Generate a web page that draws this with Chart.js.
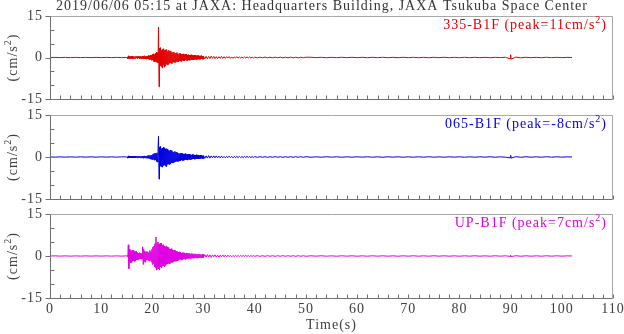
<!DOCTYPE html>
<html><head><meta charset="utf-8">
<script src="https://cdn.jsdelivr.net/npm/chart.js@4.4.1/dist/chart.umd.min.js"></script>
<style>
html,body{margin:0;padding:0;background:#fff;width:624px;height:334px;overflow:hidden}
canvas.p{position:absolute;left:0;top:0}
</style>
</head><body>
<canvas id="c0" class="p" width="624" height="334"></canvas>
<canvas id="c1" class="p" width="624" height="334"></canvas>
<canvas id="c2" class="p" width="624" height="334"></canvas>
<script>
// ---- data (time in seconds, acceleration in cm/s^2) ----
const times = [
0,1,2,3,4,5,6,7,8,9,10,11,12,13,14,
15,15.1,15.2,15.3,15.4,15.5,15.6,15.7,15.8,15.9,
16,16.1,16.2,16.3,16.4,16.5,16.6,16.7,16.8,16.9,
17,17.1,17.2,17.3,17.4,17.5,17.6,17.7,17.8,17.9,
18,18.1,18.2,18.3,18.4,18.5,18.6,18.7,18.8,18.9,
19,19.1,19.2,19.3,19.4,19.5,19.6,19.7,19.8,19.9,
20,20.1,20.2,20.3,20.4,20.5,20.6,20.7,20.8,20.9,
21,21.1,21.2,21.3,21.4,21.5,21.6,21.7,21.8,21.9,
22,22.1,22.2,22.3,22.4,22.5,22.6,22.7,22.8,22.9,
23,23.1,23.2,23.3,23.4,23.5,23.6,23.7,23.8,23.9,
24,24.1,24.2,24.3,24.4,24.5,24.6,24.7,24.8,24.9,
25,25.1,25.2,25.3,25.4,25.5,25.6,25.7,25.8,25.9,
26,26.1,26.2,26.3,26.4,26.5,26.6,26.7,26.8,26.9,
27,27.1,27.2,27.3,27.4,27.5,27.6,27.7,27.8,27.9,
28,28.1,28.2,28.3,28.4,28.5,28.6,28.7,28.8,28.9,
29,29.1,29.2,29.3,29.4,29.5,29.6,29.7,29.8,29.9,
30,
30.25,30.5,30.75,31,31.25,31.5,31.75,32,32.25,32.5,
32.75,33,33.25,33.5,33.75,34,34.25,34.5,34.75,35,
35.25,35.5,35.75,36,36.25,36.5,36.75,37,37.25,37.5,
37.75,38,38.25,38.5,38.75,39,39.25,39.5,39.75,40,
40.5,41,41.5,42,42.5,43,43.5,44,44.5,45,
45.5,46,46.5,47,47.5,48,48.5,49,49.5,50,
51,52,53,54,55,56,57,58,59,60,
61,62,63,64,65,66,67,68,69,70,
71,72,73,74,75,76,77,78,79,80,
81,82,83,84,85,86,87,88,89,
89.9,90,90.1,
91,92,93,94,95,96,97,98,99,100,101,102
];
const acc335 = [
0,0.04,-0.04,0.05,-0.04,0.04,-0.05,0.04,-0.04,0.05,-0.04,0.04,-0.05,0.04,-0.04,
0.02,0.05,-0.5,0.6,-0.3,0.4,-0.5,0.3,-0.4,0.5,
-0.3,0.4,-0.5,0.2,0.4,-0.4,0.3,-0.3,0.5,-0.2,
0.3,-0.4,0.4,-0.2,0.3,-0.5,0.4,-0.3,0.2,-0.4,
0.5,-0.3,0.4,-0.5,0.6,-0.4,0.3,-0.5,0.4,-0.6,
0.5,-0.4,0.7,-0.6,0.5,-0.8,0.9,-0.6,0.8,-1.0,
1.1,-0.8,1.3,-1.4,1.0,-1.6,1.5,-1.2,1.9,-1.7,
1.6,-2.0,11.0,-10.6,3.4,-2.9,3.6,-3.2,2.6,-3.8,
3.0,-2.7,3.2,-3.5,2.6,-3.0,2.8,-2.4,2.9,-2.6,
2.2,-2.5,2.6,-2.0,2.3,-1.9,2.4,-2.2,1.8,-2.0,
1.9,-1.6,2.0,-1.7,1.5,-1.8,1.6,-1.4,1.8,-1.5,
1.3,-1.5,1.4,-1.2,1.5,-1.3,1.1,-1.4,1.2,-1.0,
1.3,-1.1,1.0,-1.2,1.1,-0.9,1.2,-1.0,0.9,-1.1,
1.0,-0.8,0.9,-1.0,0.8,-0.9,1.0,-0.7,0.8,-0.9,
0.7,-0.8,0.9,-0.6,0.8,-0.7,0.6,-0.8,0.7,-0.6,
0.7,-0.6,0.5,-0.7,0.6,-0.5,0.7,-0.6,0.5,-0.6,
0.5,
-0.5,0.4,-0.5,0.4,-0.4,0.5,-0.3,0.4,-0.4,0.3,
-0.4,0.3,-0.3,0.4,-0.3,0.3,-0.3,0.3,-0.2,0.3,
-0.3,0.2,-0.3,0.2,-0.2,0.3,-0.2,0.2,-0.2,0.2,
-0.25,0.2,-0.2,0.2,-0.15,0.2,-0.2,0.15,-0.2,0.15,
-0.15,0.12,-0.12,0.15,-0.12,0.1,-0.12,0.12,-0.1,0.12,
-0.12,0.1,-0.1,0.12,-0.1,0.1,-0.12,0.1,-0.1,0.1,
0.08,-0.06,0.07,-0.08,0.06,-0.07,0.08,-0.06,0.07,-0.07,
0.06,-0.08,0.07,-0.06,0.08,-0.07,0.06,-0.07,0.08,-0.06,
0.07,-0.07,0.06,-0.08,0.07,-0.06,0.08,-0.07,0.06,-0.07,
0.08,-0.06,0.07,-0.07,0.06,-0.08,0.07,-0.06,0.08,
-0.5,1.0,-0.6,
0.15,-0.1,0.08,-0.07,0.06,-0.07,0.08,-0.06,0.07,-0.06,0.05,0
];
const acc065 = [
0,-0.04,0.04,-0.05,0.04,-0.04,0.05,-0.04,0.04,-0.05,0.04,-0.04,0.05,-0.04,0.04,
0.02,0.03,-0.4,0.4,-0.3,0.3,-0.2,0.3,-0.3,0.2,
-0.3,0.2,-0.2,0.3,-0.3,0.2,-0.2,0.3,-0.2,0.2,
-0.3,0.2,-0.2,0.3,-0.2,0.2,-0.3,0.2,-0.2,0.3,
-0.3,0.3,-0.4,0.3,-0.3,0.4,-0.3,0.3,-0.4,0.3,
-0.4,0.5,-0.4,0.6,-0.5,0.5,-0.7,0.6,-0.8,0.7,
-0.9,1.0,-0.8,1.2,-1.1,1.4,-1.0,1.3,-1.6,1.5,
-1.8,2.0,7.4,-7.9,3.6,-3.2,3.8,-3.4,3.0,-3.6,
3.2,-3.0,3.5,-2.8,3.3,-3.1,2.9,-3.4,3.0,-2.6,
2.8,-2.5,2.4,-2.7,2.2,-2.4,2.5,-2.0,2.3,-2.1,
1.9,-2.0,1.7,-1.8,2.0,-1.6,1.7,-1.5,1.8,-1.6,
1.4,-1.5,1.3,-1.4,1.2,-1.3,1.4,-1.1,1.2,-1.2,
1.1,-1.2,1.0,-1.1,1.2,-0.9,1.0,-1.0,0.9,-1.1,
0.9,-0.8,1.0,-0.9,0.8,-0.9,0.7,-0.8,0.9,-0.7,
0.8,-0.7,0.6,-0.8,0.7,-0.6,0.8,-0.6,0.7,-0.6,
0.6,-0.7,0.5,-0.6,0.6,-0.5,0.6,-0.5,0.5,-0.6,
0.5,
-0.5,0.4,-0.4,0.5,-0.4,0.4,-0.3,0.4,-0.3,0.4,
-0.3,0.3,-0.3,0.3,-0.3,0.2,-0.3,0.2,-0.2,0.3,
-0.2,0.2,-0.3,0.2,-0.2,0.2,-0.2,0.2,-0.2,0.15,
-0.2,0.2,-0.15,0.2,-0.15,0.15,-0.2,0.15,-0.15,0.15,
-0.12,0.12,-0.1,0.12,-0.12,0.1,-0.1,0.12,-0.1,0.1,
-0.12,0.1,-0.1,0.1,-0.1,0.12,-0.1,0.1,-0.1,0.1,
-0.08,0.06,-0.07,0.08,-0.06,0.07,-0.08,0.06,-0.07,0.07,
-0.06,0.08,-0.07,0.06,-0.08,0.07,-0.06,0.07,-0.08,0.06,
-0.07,0.07,-0.06,0.08,-0.07,0.06,-0.08,0.07,-0.06,0.07,
-0.08,0.06,-0.07,0.07,-0.06,0.08,-0.07,0.06,-0.08,
-0.3,0.6,-0.4,
0.12,-0.1,0.08,-0.07,0.06,-0.07,0.08,-0.06,0.07,-0.06,0.05,0
];
const accUP = [
0,0.05,-0.04,0.04,-0.05,0.04,-0.04,0.05,-0.04,0.04,-0.04,0.05,-0.04,0.04,-0.05,
0.05,0.1,-0.2,4.0,-4.5,2.4,-2.2,2.0,-2.5,1.8,
-2.0,2.1,-1.7,1.9,-1.8,1.5,-1.9,1.6,-1.4,1.7,
-1.3,1.2,-1.4,1.0,-1.1,1.2,-0.9,1.0,-1.1,0.9,
-1.0,3.3,-3.0,2.4,-2.0,1.8,-2.2,1.5,-1.4,1.6,
-1.3,1.5,-1.6,1.2,-1.8,2.0,-1.5,1.6,-2.1,2.4,
-3.0,3.2,-2.6,3.5,-3.8,4.4,-4.2,6.8,-5.0,4.6,
-4.4,5.0,-4.6,4.2,-4.8,4.5,-3.9,4.6,-4.1,3.8,
-3.6,4.0,-3.4,3.5,-3.8,3.1,-3.3,3.6,-2.9,3.2,
-2.8,3.0,-2.6,2.5,-2.8,2.4,-2.2,2.6,-2.3,2.1,
-2.2,1.9,-2.0,2.1,-1.7,1.8,-1.9,1.6,-1.7,1.5,
-1.6,1.4,-1.3,1.5,-1.2,1.4,-1.3,1.1,-1.3,1.2,
-1.1,1.2,-1.0,1.1,-1.2,0.9,-1.0,1.1,-0.9,1.0,
-0.9,1.0,-0.8,0.9,-0.9,0.7,-0.8,0.9,-0.7,0.8,
-0.8,0.7,-0.7,0.8,-0.6,0.7,-0.7,0.6,-0.7,0.6,
-0.6,0.7,-0.5,0.6,-0.6,0.5,-0.6,0.5,-0.5,0.6,
-0.5,
0.5,-0.4,0.5,-0.4,0.4,-0.5,0.4,-0.3,0.4,-0.4,
0.3,-0.4,0.3,-0.3,0.4,-0.3,0.3,-0.3,0.3,-0.25,
0.25,-0.3,0.2,-0.25,0.25,-0.2,0.2,-0.25,0.2,-0.2,
0.2,-0.15,0.2,-0.15,0.15,-0.2,0.15,-0.15,0.15,-0.12,
0.12,-0.12,0.1,-0.12,0.12,-0.1,0.1,-0.12,0.1,-0.1,
0.12,-0.1,0.1,-0.1,0.1,-0.12,0.1,-0.1,0.1,-0.1,
0.07,-0.06,0.08,-0.07,0.06,-0.08,0.07,-0.06,0.07,-0.08,
0.06,-0.07,0.08,-0.06,0.07,-0.07,0.06,-0.08,0.07,-0.06,
0.08,-0.07,0.06,-0.07,0.08,-0.06,0.07,-0.07,0.06,-0.08,
0.07,-0.06,0.08,-0.07,0.06,-0.07,0.08,-0.06,0.07,
-0.15,0.3,-0.2,
0.1,-0.08,0.07,-0.07,0.06,-0.07,0.08,-0.06,0.07,-0.06,0.05,0
];
const xTickLabels = [0,10,20,30,40,50,60,70,80,90,100,110];
const yTickLabels = [-15,0,15];
const panelNames = ['335-B1F','065-B1F','UP-B1F'];
const panelPeaks = [11,-8,7];
const titleText = '2019/06/06 05:15 at JAXA: Headquarters Building, JAXA Tsukuba Space Center';
const xTitle = 'Time(s)';

// ---- layout / style ----
const W = 624, H = 334;
const TOPS = [16,115,214], BOTS = [99,199,298];
const LEFT = 50, RIGHT = 613;
const COLORS = ['#e00000','#0000e0','#e000e0'];
const FONT = '"Liberation Serif","Times New Roman",serif';
const TXT = '#404040';

function supText(ctx, x, y, parts, size, align){
  ctx.font = size + 'px ' + FONT;
  const w1 = ctx.measureText(parts[0]).width;
  const w3 = ctx.measureText(parts[2]).width;
  ctx.font = Math.round(size*0.7) + 'px ' + FONT;
  const w2 = ctx.measureText(parts[1]).width;
  const tot = w1 + w2 + w3;
  let sx = align === 'right' ? x - tot : (align === 'center' ? x - tot/2 : x);
  ctx.textAlign = 'left'; ctx.textBaseline = 'alphabetic';
  ctx.font = size + 'px ' + FONT;
  ctx.fillText(parts[0], sx, y);
  ctx.font = Math.round(size*0.7) + 'px ' + FONT;
  ctx.fillText(parts[1], sx + w1, y - size*0.42);
  ctx.font = size + 'px ' + FONT;
  ctx.fillText(parts[2], sx + w1 + w2, y);
}

const spacingPlugin = {
  id:'spacing',
  beforeDraw(chart){ try { chart.ctx.letterSpacing = '1px'; } catch(e){} }
};

function framePlugin(idx){
  return {
    id:'frame'+idx,
    afterDraw(chart){
      const ctx = chart.ctx, a = chart.chartArea, xs = chart.scales.x, ys = chart.scales.y;
      const l = Math.round(a.left)+0.5, r = Math.round(a.right)-0.5;
      const t = Math.round(a.top)+0.5, b = Math.round(a.bottom)+0.5;
      ctx.save();
      ctx.lineWidth = 1;
      ctx.strokeStyle = '#a8a8a8';
      ctx.beginPath(); ctx.moveTo(l, t); ctx.lineTo(r, t); ctx.lineTo(r, b); ctx.stroke();
      ctx.strokeStyle = '#707070';
      ctx.beginPath(); ctx.moveTo(l, t); ctx.lineTo(l, b); ctx.lineTo(r, b); ctx.stroke();
      ctx.beginPath();
      yTickLabels.forEach(v => { const p = Math.round(ys.getPixelForValue(v))+0.5; ctx.moveTo(l-5, p); ctx.lineTo(l, p); });
      [-10,-5,5,10].forEach(v => { const p = Math.round(ys.getPixelForValue(v))+0.5; ctx.moveTo(l, p); ctx.lineTo(l+4, p); });
      for (let v = 0; v <= 110; v += 2) {
        const p = Math.round(xs.getPixelForValue(v))+0.5;
        ctx.moveTo(p, b); ctx.lineTo(p, b-4);
      }
      ctx.stroke();
      ctx.fillStyle = COLORS[idx];
      try { ctx.letterSpacing = '1px'; } catch(e){}
      supText(ctx, 607, a.top + 13, [panelNames[idx] + ' (peak=' + panelPeaks[idx] + 'cm/s', '2', ')'], 14, 'right');
      ctx.save();
      ctx.translate(17, (a.top + a.bottom)/2);
      ctx.rotate(-Math.PI/2);
      ctx.fillStyle = TXT;
      supText(ctx, 0, 0, ['(cm/s', '2', ')'], 14, 'center');
      ctx.restore();
      if (idx === 0) {
        ctx.fillStyle = '#333';
        ctx.font = '14px ' + FONT;
        ctx.textAlign = 'center'; ctx.textBaseline = 'alphabetic';
        ctx.fillText(titleText, 322, 10);
      }
      if (idx === 2) {
        ctx.fillStyle = TXT;
        ctx.font = '14px ' + FONT;
        ctx.textAlign = 'center'; ctx.textBaseline = 'alphabetic';
        ctx.fillText(xTitle, (a.left + a.right)/2, 329);
      }
      ctx.restore();
    }
  };
}

function makePanel(idx, values){
  const xh = idx === 2 ? (H - BOTS[idx]) : 0;
  const pts = times.map((t, i) => ({x: t, y: values[i]}));
  new Chart(document.getElementById('c' + idx), {
    type: 'line',
    data: { datasets: [{ data: pts, borderColor: COLORS[idx], borderWidth: 1, pointRadius: 0, tension: 0, fill: false }] },
    options: {
      responsive: false, animation: false, devicePixelRatio: 1, events: [],
      layout: { padding: { left: 0, right: W - RIGHT, top: TOPS[idx], bottom: H - BOTS[idx] - xh } },
      plugins: { legend: { display: false }, tooltip: { enabled: false }, title: { display: false } },
      scales: {
        x: {
          type: 'linear', min: 0, max: 110,
          grid: { display: false, drawTicks: false }, border: { display: false },
          ticks: { display: idx === 2, autoSkip: false, maxRotation: 0, padding: 3, color: TXT, font: { family: FONT, size: 14 } },
          afterBuildTicks(s){ s.ticks = xTickLabels.map(v => ({ value: v })); },
          afterFit(s){ s.height = xh; s.paddingLeft = 0; s.paddingRight = 0; }
        },
        y: {
          min: -15, max: 15,
          grid: { display: false, drawTicks: false }, border: { display: false },
          ticks: { padding: 7, color: TXT, font: { family: FONT, size: 14 } },
          afterBuildTicks(s){ s.ticks = yTickLabels.map(v => ({ value: v })); },
          afterFit(s){ s.width = LEFT; s.paddingTop = 0; s.paddingBottom = 0; }
        }
      }
    },
    plugins: [spacingPlugin, framePlugin(idx)]
  });
}

makePanel(0, acc335);
makePanel(1, acc065);
makePanel(2, accUP);
</script>
</body></html>
